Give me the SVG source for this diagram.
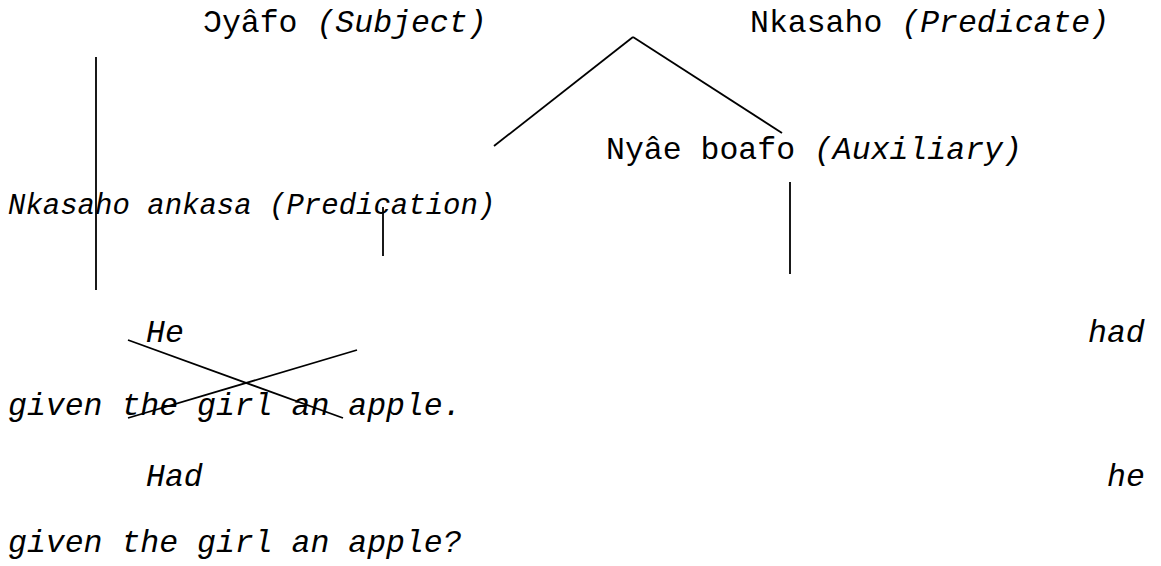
<svg xmlns="http://www.w3.org/2000/svg" width="1161" height="566" viewBox="0 0 1161 566">
<style>
text{font-family:"Liberation Mono","Courier New",monospace;fill:#000;}
.a{font-size:31.5px;}
.b{font-size:29px;}
.i{font-style:italic;}
line{stroke:#000;stroke-width:1.8;}
</style>
<rect width="1161" height="566" fill="#fff"/>
<g id="subject"><text class="a" x="203" y="32">Ɔyâfo <tspan class="i">(Subject)</tspan></text></g>
<g id="predicate"><text class="a" x="750" y="32">Nkasaho <tspan class="i">(Predicate)</tspan></text></g>
<g id="auxiliary"><text class="a" x="606" y="159">Nyâe boafo <tspan class="i">(Auxiliary)</tspan></text></g>
<g id="predication"><text class="b i" x="8" y="214">Nkasaho ankasa (Predication)</text></g>
<g id="sentence1">
<text class="a i" x="146" y="342">He</text>
<text class="a i" x="1088" y="342">had</text>
<text class="a i" x="8" y="415">given the girl an apple.</text>
</g>
<g id="sentence2">
<text class="a i" x="146" y="486">Had</text>
<text class="a i" x="1107" y="486">he</text>
<text class="a i" x="8" y="552">given the girl an apple?</text>
</g>
<g id="connectors">
<line x1="96" y1="57" x2="96" y2="290"/>
<line x1="383" y1="207" x2="383" y2="256"/>
<line x1="790" y1="182" x2="790" y2="274"/>
<line x1="633" y1="37" x2="494" y2="146"/>
<line x1="633" y1="37" x2="782" y2="133"/>
<line x1="128" y1="340" x2="343" y2="418"/>
<line x1="357" y1="350" x2="128" y2="418"/>
</g>
</svg>
